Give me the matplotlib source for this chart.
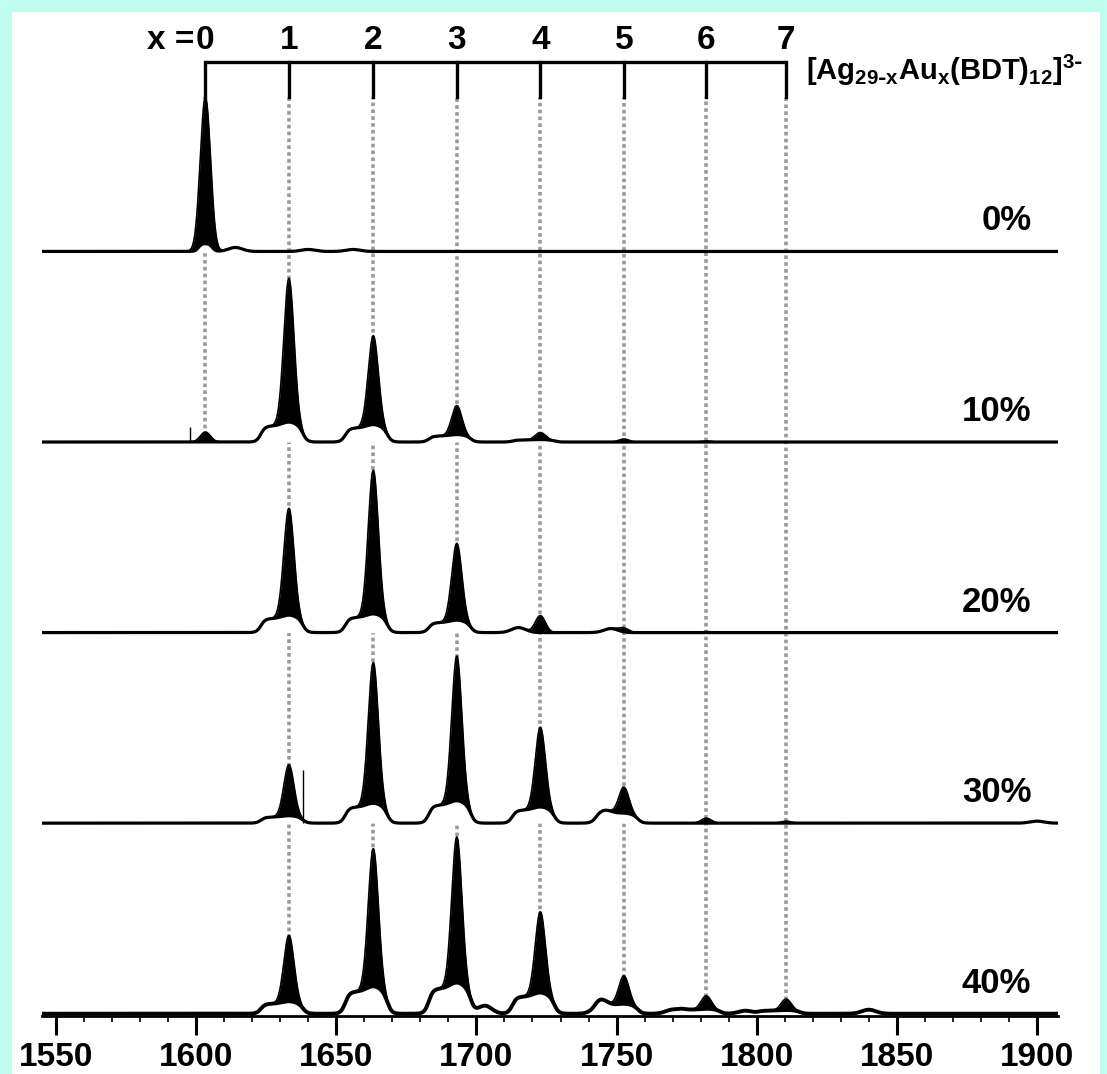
import numpy as np
import matplotlib.pyplot as plt
from matplotlib.patches import Rectangle
from matplotlib.ticker import MultipleLocator

plt.rcParams['font.family'] = ['Liberation Sans', 'DejaVu Sans']
plt.rcParams['font.weight'] = 'bold'
plt.rcParams['mathtext.default'] = 'regular'

# número de Au (x) y posición m/z de cada pico
au_count = [0, 1, 2, 3, 4, 5, 6, 7]
peak_mz = [1603.3, 1633.1, 1663.2, 1693.0, 1722.8, 1752.6, 1782.0, 1810.5]

doping_labels = ['0%', '10%', '20%', '30%', '40%']

# alturas de los picos (u. arb., 191 = separación entre espectros)
peaks_0 = [147, 0, 0, 0, 0, 0, 0, 0]
peaks_10 = [10, 144, 89, 29, 7, 3, 1, 0]
peaks_20 = [0, 107, 144, 77, 17, 4, 1, 0]
peaks_30 = [0, 51, 141, 145, 80, 26, 5, 2]
peaks_40 = [0, 66, 138, 146, 81, 28, 13, 11]

# "joroba" ancha bajo cada pico
humps_0 = [8, 0, 0, 0, 0, 0, 0, 0]
humps_10 = [0, 16, 14, 6, 2, 0, 0, 0]
humps_20 = [0, 14, 15, 10, 0, 0, 0, 0]
humps_30 = [0, 6, 16, 18, 13, 8, 0, 0]
humps_40 = [0, 10, 22, 25, 17, 8, 4, 3]

# señales pequeñas sueltas: (m/z, altura)
extras_0 = [(1614, 4), (1640, 2), (1656, 2)]
extras_10 = []
extras_20 = [(1715, 5), (1748, 4)]
extras_30 = [(1746, 5), (1900, 2)]
extras_40 = [(1703, 8), (1744, 7), (1770, 4), (1796, 3), (1840, 4)]

# picos muy finos (m/z, altura)
spikes_10 = [(1597.8, 15)]
spikes_30 = [(1638.1, 53)]

PASO = 191.0

peaks = [peaks_0, peaks_10, peaks_20, peaks_30, peaks_40]
humps = [humps_0, humps_10, humps_20, humps_30, humps_40]
extras = [extras_0, extras_10, extras_20, extras_30, extras_40]
spikes = [[], spikes_10, [], spikes_30, []]


def gauss(x, c, s):
    return np.exp(-0.5 * ((x - c) / s) ** 2)


def meseta(x, a, b, suave):
    return 0.5 * (np.tanh((x - a) / suave) - np.tanh((x - b) / suave))


fig = plt.figure(figsize=(11.07, 10.74), dpi=100, facecolor='#bffdef')
fig.patches.append(Rectangle((12 / 1107, 0), 1088 / 1107, 1 - 12 / 1074,
                             transform=fig.transFigure, facecolor='white',
                             edgecolor='none', zorder=-10))

ax = fig.add_axes([42 / 1107, 58 / 1074, 1016 / 1107, 1004 / 1074])
ax.set_facecolor('none')
ax.set_xlim(1545, 1907.5)
ax.set_ylim(-0.012, 1004 / PASO)

x = np.linspace(1545, 1907.5, 4000)

for k, etiqueta in enumerate(doping_labels):
    base = 4 - k
    lower = np.zeros_like(x)
    for j, mz in enumerate(peak_mz):
        h = humps[k][j] / PASO
        if h == 0:
            continue
        if k == 0:
            lower += h * meseta(x, mz - 2.5, mz + 2.5, 1.2)
        else:
            lower += h * meseta(x, mz - 10.0, mz + 5.0, 1.6)
            lower += 0.25 * h * gauss(x, mz, 2.5)
    for mz, h in extras[k]:
        lower += h / PASO * gauss(x, mz, 2.5)
    upper = lower.copy()
    for j, mz in enumerate(peak_mz):
        upper += peaks[k][j] / PASO * gauss(x, mz, 1.8)

    ax.fill_between(x, base, base + lower, color='white', lw=0, zorder=2)
    ax.fill_between(x, base + lower, base + upper, color='black', lw=0, zorder=3)
    ax.plot(x, base + upper, color='black', lw=1.2, zorder=4)
    ax.plot(x, base + lower, color='black', lw=2.8 if k == 4 else 2.3, zorder=4)
    for mz, h in spikes[k]:
        ax.vlines(mz, base, base + h / PASO, color='black', lw=1.0, zorder=4)

    ax.text(1898, base + 0.16, etiqueta, ha='right', va='center',
            fontsize=25, fontweight='bold')

# líneas punteadas guía
tope = 4.812
for j, mz in enumerate(peak_mz):
    if j == 0:
        fondo = 3.0
    else:
        fondo = (humps_40[j] + peaks_40[j]) / PASO
    ax.plot([mz, mz], [fondo, tope], color='#9a9a9a', lw=2.6,
            linestyle=(0, (1.0, 0.9)), zorder=1)

# corchete superior con x = 0..7
y_barra = 4.995
ax.plot([peak_mz[0], peak_mz[-1]], [y_barra, y_barra], color='black', lw=2.4,
        solid_capstyle='butt', clip_on=False)
for n, mz in zip(au_count, peak_mz):
    ax.plot([mz, mz], [tope, y_barra], color='black', lw=2.4, clip_on=False)
    ax.text(mz, 5.025, str(n), ha='center', va='bottom', fontsize=24,
            fontweight='bold')
ax.text(1599.5, 5.025, 'x =', ha='right', va='bottom', fontsize=24,
        fontweight='bold')
ax.text(1817.5, 4.95,
        r'[Ag$_{29\text{-}x}$Au$_x$(BDT)$_{12}$]$^{3\text{-}}$',
        ha='left', va='center', fontsize=21, fontweight='bold')

for lado in ['top', 'left', 'right']:
    ax.spines[lado].set_visible(False)
ax.spines['bottom'].set_linewidth(2.0)
ax.set_yticks([])
ax.xaxis.set_major_locator(MultipleLocator(50))
ax.xaxis.set_minor_locator(MultipleLocator(10))
ax.tick_params(axis='x', which='major', length=14, width=2.2, pad=5,
               labelsize=24)
ax.tick_params(axis='x', which='minor', length=4, width=1.2)
for lbl in ax.get_xticklabels():
    lbl.set_fontweight('bold')

fig.savefig('out.png', dpi=100, facecolor=fig.get_facecolor())
